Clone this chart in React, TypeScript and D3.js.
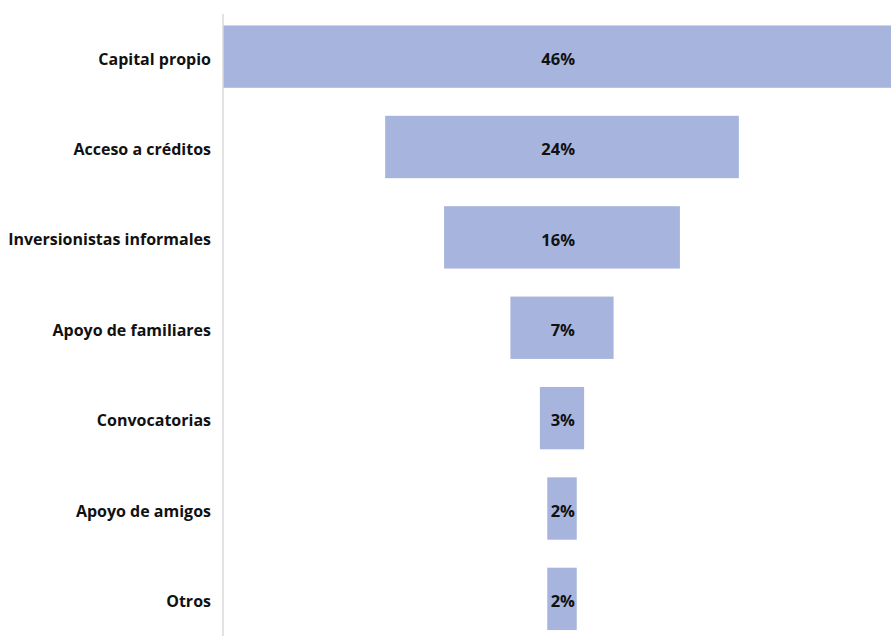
import React, { useRef, useEffect, useCallback } from 'react';
import * as d3 from 'd3';

const categories = [
  'Capital propio',
  'Acceso a créditos',
  'Inversionistas informales',
  'Apoyo de familiares',
  'Convocatorias',
  'Apoyo de amigos',
  'Otros',
];
const values = [46, 24, 16, 7, 3, 2, 2];
const valueLabels = ['46%', '24%', '16%', '7%', '3%', '2%', '2%'];

const width = 891;
const height = 636;
const axisX = 223;
const centerX = 562;
const font = '"Open Sans", Lato, sans-serif';

const App: React.FC = () => {
  const chartRef = useRef(null);

  const draw = useCallback(() => {
    const w = d3.scaleLinear().domain([0, 46]).range([0, 678]);

    const y = d3
      .scaleBand()
      .domain(categories)
      .range([15.5, 640])
      .paddingInner(0.31)
      .paddingOuter(0.11);

    /** Clear baseSvg */
    d3.select(chartRef.current).selectAll('svg').remove();

    const baseSvg = d3
      .select(chartRef.current)
      .append('svg')
      .attr('width', width)
      .attr('height', height)
      .style('display', 'block');

    baseSvg
      .append('g')
      .attr('fill', '#a7b5de')
      .selectAll('rect')
      .data(values)
      .join('rect')
      .attr('x', (d) => centerX - w(d) / 2)
      .attr('y', (d, i) => y(categories[i]) ?? 0)
      .attr('width', (d) => w(d))
      .attr('height', y.bandwidth());

    // left axis line
    baseSvg
      .append('line')
      .attr('x1', axisX)
      .attr('x2', axisX)
      .attr('y1', 14)
      .attr('y2', height)
      .attr('stroke', '#d9d9d9')
      .attr('stroke-width', 1.5);

    baseSvg
      .append('g')
      .selectAll('text')
      .data(categories)
      .join('text')
      .attr('x', 211)
      .attr('y', (d) => (y(d) ?? 0) + y.bandwidth() / 2)
      .attr('dy', '0.5em')
      .attr('text-anchor', 'end')
      .attr('font-family', font)
      .attr('font-weight', 'bold')
      .attr('font-size', 16)
      .attr('fill', '#111')
      .text((d) => d);

    baseSvg
      .append('g')
      .selectAll('text')
      .data(valueLabels)
      .join('text')
      .attr('x', centerX + 13)
      .attr('y', (d, i) => (y(categories[i]) ?? 0) + y.bandwidth() / 2)
      .attr('dy', '0.5em')
      .attr('text-anchor', 'end')
      .attr('font-family', font)
      .attr('font-weight', 'bold')
      .attr('font-size', 16.5)
      .attr('fill', '#111')
      .text((d) => d);
  }, []);

  useEffect(() => {
    draw();
  }, [draw]);

  return (
    <div
      ref={chartRef}
      style={{ position: 'absolute', left: 0, top: 0, width, height, background: '#fff' }}
    />
  );
};

export default App;
